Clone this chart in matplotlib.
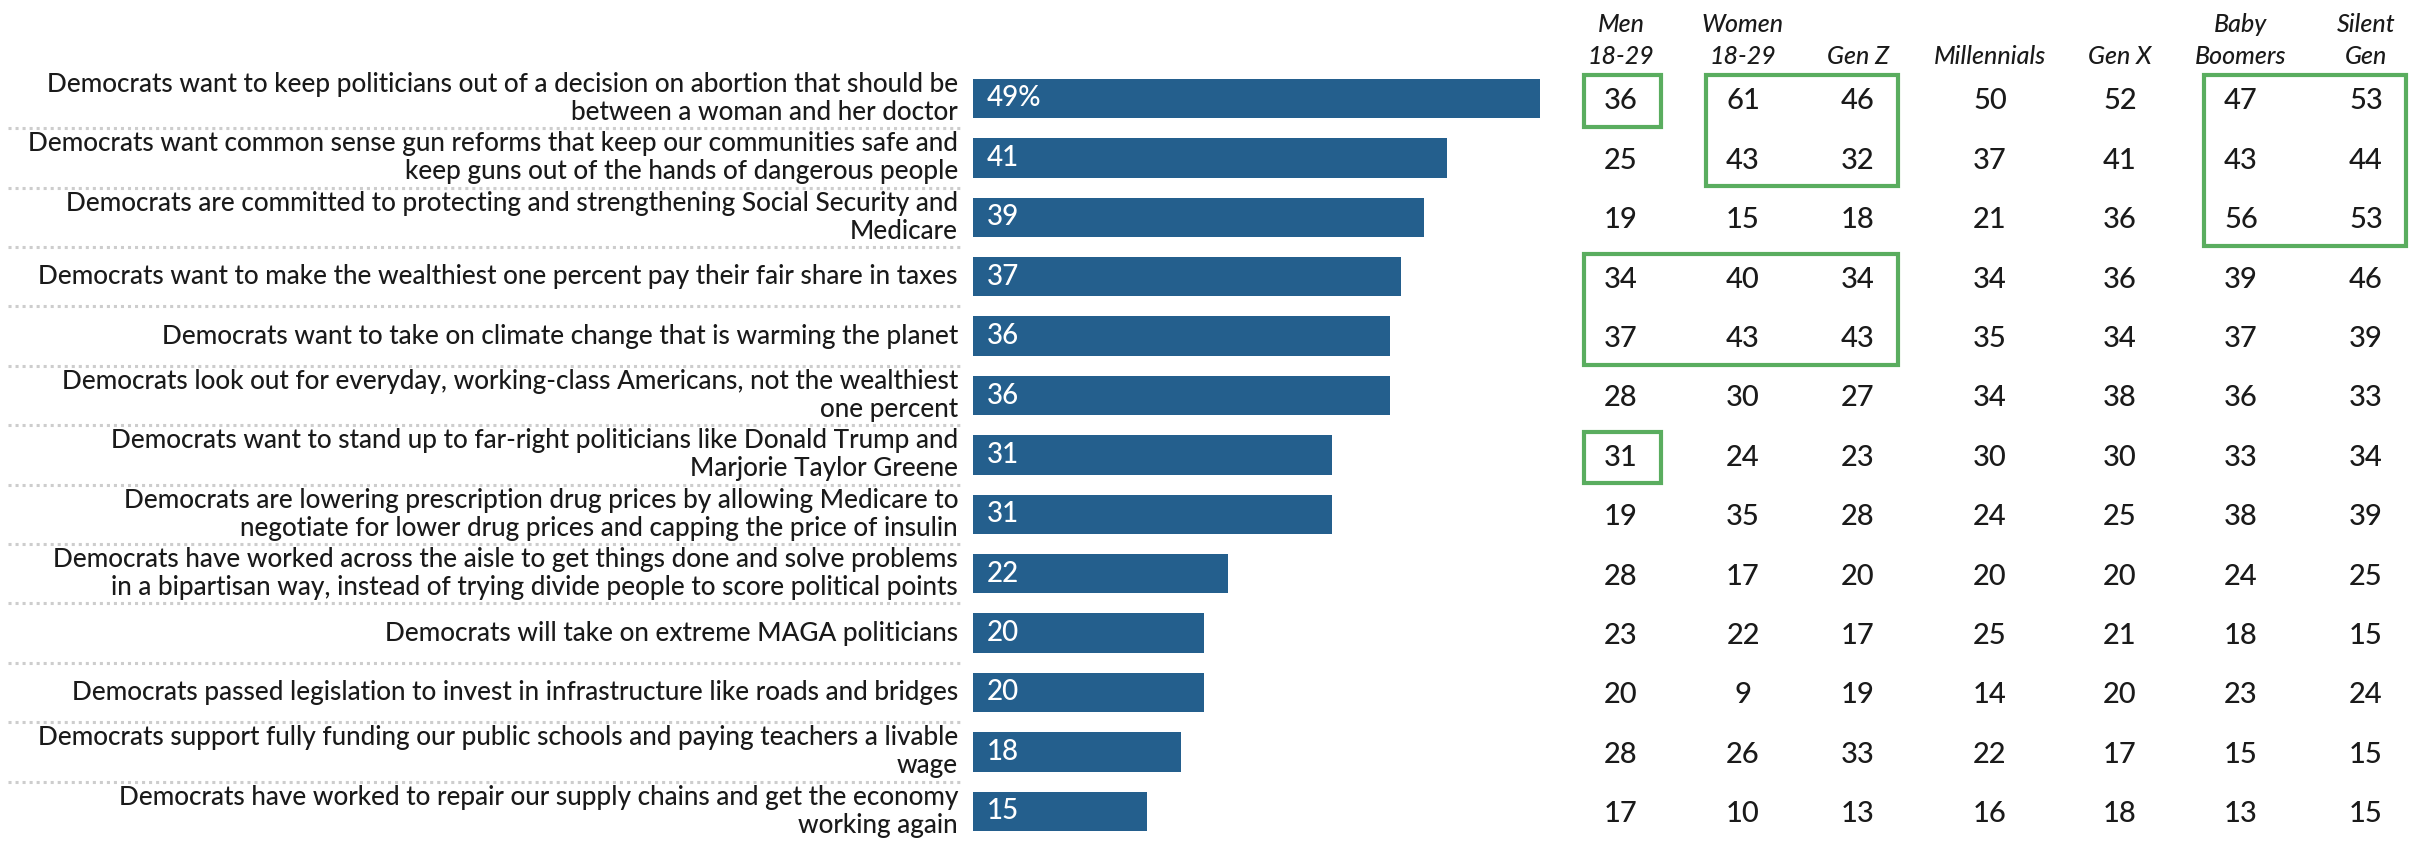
import matplotlib
matplotlib.use("Agg")
import matplotlib.pyplot as plt
from matplotlib.patches import Rectangle

plt.rcParams["font.family"] = ["Lato", "DejaVu Sans"]

labels = [
    "Democrats want to keep politicians out of a decision on abortion that should be\nbetween a woman and her doctor",
    "Democrats want common sense gun reforms that keep our communities safe and\nkeep guns out of the hands of dangerous people",
    "Democrats are committed to protecting and strengthening Social Security and\nMedicare",
    "Democrats want to make the wealthiest one percent pay their fair share in taxes",
    "Democrats want to take on climate change that is warming the planet",
    "Democrats look out for everyday, working-class Americans, not the wealthiest\none percent",
    "Democrats want to stand up to far-right politicians like Donald Trump and\nMarjorie Taylor Greene",
    "Democrats are lowering prescription drug prices by allowing Medicare to\nnegotiate for lower drug prices and capping the price of insulin",
    "Democrats have worked across the aisle to get things done and solve problems\nin a bipartisan way, instead of trying divide people to score political points",
    "Democrats will take on extreme MAGA politicians",
    "Democrats passed legislation to invest in infrastructure like roads and bridges",
    "Democrats support fully funding our public schools and paying teachers a livable\nwage",
    "Democrats have worked to repair our supply chains and get the economy\nworking again",
]
overall = [49, 41, 39, 37, 36, 36, 31, 31, 22, 20, 20, 18, 15]

groups = ["Men\n18-29", "Women\n18-29", "Gen Z", "Millennials", "Gen X", "Baby\nBoomers", "Silent\nGen"]
men_18_29 = [36, 25, 19, 34, 37, 28, 31, 19, 28, 23, 20, 28, 17]
women_18_29 = [61, 43, 15, 40, 43, 30, 24, 35, 17, 22, 9, 26, 10]
gen_z = [46, 32, 18, 34, 43, 27, 23, 28, 20, 17, 19, 33, 13]
millennials = [50, 37, 21, 34, 35, 34, 30, 24, 20, 25, 14, 22, 16]
gen_x = [52, 41, 36, 36, 34, 38, 30, 25, 20, 21, 20, 17, 18]
boomers = [47, 43, 56, 39, 37, 36, 33, 38, 24, 18, 23, 15, 13]
silent_gen = [53, 44, 53, 46, 39, 33, 34, 39, 25, 15, 24, 15, 15]
columns = [men_18_29, women_18_29, gen_z, millennials, gen_x, boomers, silent_gen]

# green boxes: (first col, last col, first row, last row)
highlights = [(0, 0, 0, 0), (1, 2, 0, 1), (5, 6, 0, 2), (0, 2, 3, 4), (0, 0, 6, 6)]

BAR = "#245f8d"
GREEN = "#5aad5f"
TEXT = "#1a1a1a"

W, H = 2422, 841
fig = plt.figure(figsize=(W / 100, H / 100), dpi=100)

# layout in pixels of the output image
row_top, row_step = 98.5, 59.4
y_top = -row_top / row_step
y_bot = (H - row_top) / row_step
bar_left, bar_right = 973, 1540
label_right = 958
col_x = [1621, 1743, 1858, 1990, 2120, 2241, 2366]
head_y = [(25 - row_top) / row_step, (56 - row_top) / row_step]

ax_t = fig.add_axes([0, 0, 1, 1])
ax_t.set_xlim(0, W)
ax_t.set_ylim(y_bot, y_top)
ax_t.axis("off")

ax_b = fig.add_axes([bar_left / W, 0, (bar_right - bar_left) / W, 1])
ax_b.set_xlim(0, max(overall))
ax_b.set_ylim(y_bot, y_top)
ax_b.axis("off")

rows = list(range(len(labels)))
ax_b.barh(rows, overall, height=0.66, color=BAR)
for i, v in enumerate(overall):
    ax_b.annotate(f"{v}%" if i == 0 else str(v), (0, i), xytext=(10, 0),
                  textcoords="offset points", color="white", fontsize=20,
                  fontweight="medium", va="center", ha="left")

for i, lab in enumerate(labels):
    ax_t.text(label_right, i, lab, ha="right", va="center", multialignment="right",
              fontsize=18.8, fontweight="medium", linespacing=1.15, color=TEXT)

ax_t.hlines([i + 0.5 for i in rows[:-1]], 8, 962, colors="#cdcdcd",
            linestyles=(0, (1, 1.3)), linewidth=2.2)

for c, (name, vals) in enumerate(zip(groups, columns)):
    parts = name.split("\n")
    for line, y in zip(parts, head_y[-len(parts):]):
        ax_t.text(col_x[c], y, line, ha="center", va="center", fontsize=18,
                  style="italic", fontweight="medium", color=TEXT)
    for i, v in enumerate(vals):
        ax_t.text(col_x[c], i + 0.05, str(v), ha="center", va="center",
                  fontsize=21, fontweight="medium", color=TEXT)

for c0, c1, r0, r1 in highlights:
    x0 = col_x[c0] - 37
    x1 = col_x[c1] + 40
    ax_t.add_patch(Rectangle((x0, r0 - 0.39), x1 - x0, (r1 + 0.48) - (r0 - 0.39),
                             fill=False, edgecolor=GREEN, linewidth=3))

fig.savefig("out.png", dpi=100)
plt.close(fig)
